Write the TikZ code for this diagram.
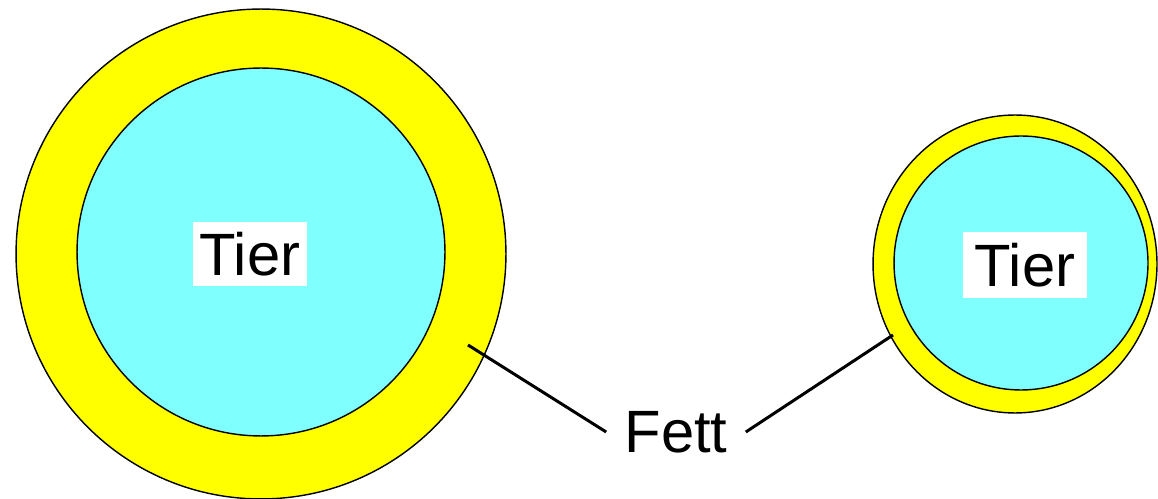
\documentclass[tikz,border=0pt]{standalone}
\usepackage{fontspec}
\setmainfont{Liberation Sans}
\usepackage{tikz}
\usetikzlibrary{shapes.geometric}
\definecolor{fatyellow}{RGB}{255,255,0}
\definecolor{bodycyan}{RGB}{128,255,255}
\tikzset{
  fatring/.style={
    draw=black,
    line width=0.8pt,
    fill=fatyellow,
    inner sep=0pt
  },
  bodydisc/.style={fatring, fill=bodycyan},
  tierlabel/.style={
    fill=white,
    inner sep=0pt,
    minimum width=2.3cm,
    minimum height=1.28cm,
    font=\fontsize{34}{40}\selectfont
  },
  fettlabel/.style={inner sep=0.36cm, font=\fontsize{34}{40}\selectfont},
  leader/.style={line width=1.7pt, draw=black}
}
\begin{document}
\begin{tikzpicture}[x=0.02cm, y=-0.02cm]
  \useasboundingbox (0,0) rectangle (1158,499);

  % large animal
  \node[fatring, circle, minimum size=9.8cm] (bigfat) at (261,254) {};
  \node[bodydisc, circle, minimum size=7.36cm] (bigbody) at (261,252) {};
  \node[tierlabel] (bigtier) at (250,254) {Tier};

  % small animal
  \node[fatring, ellipse, minimum width=5.68cm, minimum height=5.96cm] (smallfat) at (1015,264) {};
  \node[bodydisc, circle, minimum size=5.08cm] (smallbody) at (1021,263) {};
  \node[tierlabel, minimum width=2.48cm, minimum height=1.32cm] (smalltier) at (1025,265) {Tier};

  % label
  \node[fettlabel] (fett) at (676,432) {Fett};
  \coordinate (bigtip) at (468,345);
  \coordinate (smalltip) at (893,335);
  \draw[leader] (bigtip) -- (fett.west);
  \draw[leader] (smalltip) -- (fett.east);

\end{tikzpicture}
\end{document}
